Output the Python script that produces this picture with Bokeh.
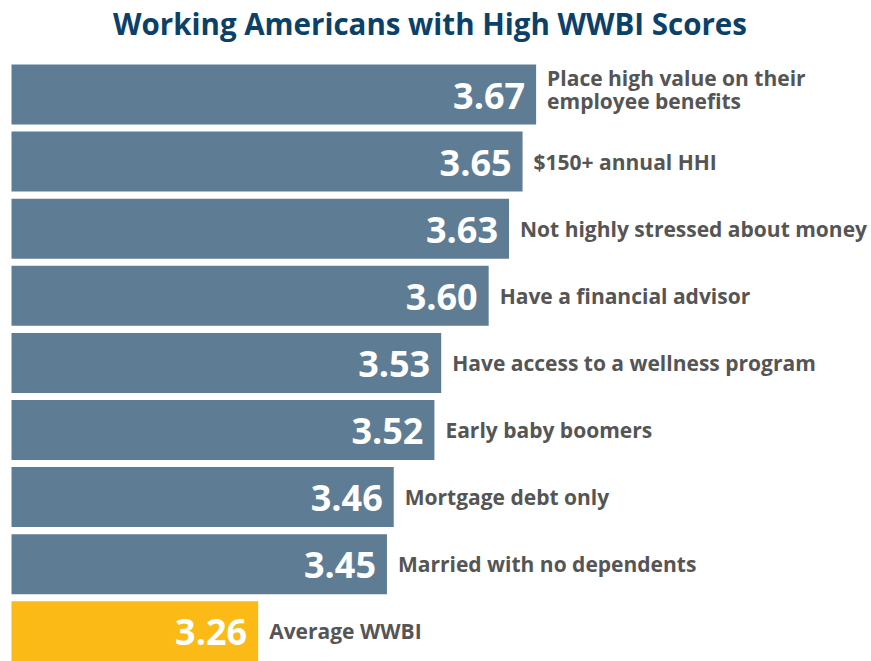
from bokeh.plotting import figure
from bokeh.models import Range1d, ColumnDataSource, Label
from bokeh.core.properties import value
from bokeh.embed import file_html
from bokeh.resources import INLINE

categories = [
    "Place high value on their\nemployee benefits",
    "$150+ annual HHI",
    "Not highly stressed about money",
    "Have a financial advisor",
    "Have access to a wellness program",
    "Early baby boomers",
    "Mortgage debt only",
    "Married with no dependents",
    "Average WWBI",
]
scores = [3.67, 3.65, 3.63, 3.60, 3.53, 3.52, 3.46, 3.45, 3.26]
colors = ["#5e7d95"] * 8 + ["#fbba16"]

W, H = 871, 661
x_start, px_per_unit = 2.880, 678.0
x_end = x_start + W / px_per_unit
bar_left = x_start + 11 / px_per_unit

pitch = 67.1
y_top = -94 / pitch
y_bot = (H - 94) / pitch

src = ColumnDataSource(dict(
    y=list(range(len(scores))),
    score=scores,
    label=[f"{v:.2f}" for v in scores],
    cat=categories,
    color=colors,
    cat_dy=[-5 if "\n" in c else 0 for c in categories],
))

p = figure(width=W, height=H, output_backend="svg", toolbar_location=None,
           x_range=Range1d(x_start, x_end), y_range=Range1d(y_bot, y_top),
           min_border=0, outline_line_color=None)
p.axis.visible = False
p.grid.visible = False
p.background_fill_color = "white"
p.border_fill_color = "white"

p.hbar(y="y", left=bar_left, right="score", height=60 / pitch, color="color",
       line_color=None, source=src)

p.text(x="score", y="y", text="label", source=src, x_offset=-11, y_offset=1,
       text_align="right", text_baseline="middle", text_color="white",
       text_font=value("Open Sans"), text_font_style="bold", text_font_size="36px")

p.text(x="score", y="y", text="cat", source=src, x_offset=11, y_offset="cat_dy",
       text_align="left", text_baseline="middle", text_color="#555555",
       text_font=value("Open Sans"), text_font_style="bold", text_font_size="21px",
       text_line_height=0.85)

title = Label(x=W / 2 - 6, y=H - 23, x_units="screen", y_units="screen",
              text="Working Americans with High WWBI Scores",
              text_align="center", text_baseline="middle",
              text_color="#0b4168", text_font="Open Sans",
              text_font_style="bold", text_font_size="29.5px")
p.add_layout(title)

open("out.html", "w").write(file_html(p, INLINE))
